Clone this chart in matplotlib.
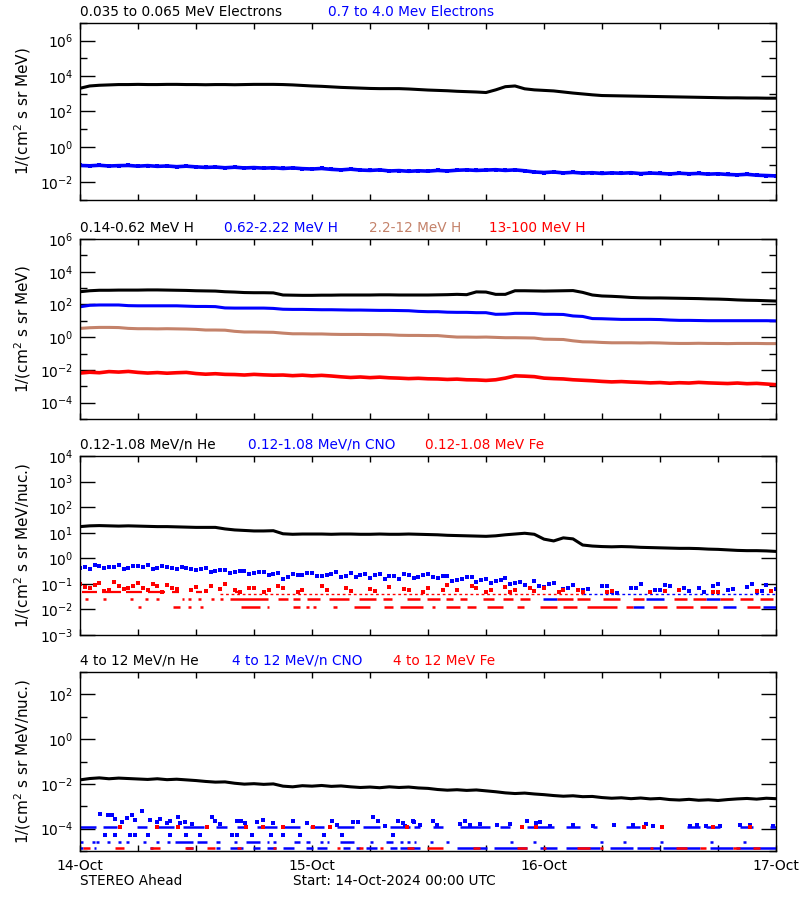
import numpy as np
import matplotlib.pyplot as plt

nan = np.nan

# sample times in hours from 14-Oct-2024 00:00 UTC
hours = np.arange(73)
half_hours = np.arange(72) + 0.5

# ---------------- panel 1 : electrons (log10 intensity, hourly)
elec_lo_log = [3.31, 3.44, 3.48, 3.50, 3.52, 3.52, 3.53, 3.52, 3.52, 3.53, 3.53, 3.52,
               3.52, 3.51, 3.52, 3.52, 3.51, 3.52, 3.53, 3.53, 3.53, 3.52, 3.50, 3.47,
               3.44, 3.42, 3.39, 3.36, 3.34, 3.32, 3.30, 3.29, 3.29, 3.29, 3.27, 3.24,
               3.21, 3.19, 3.17, 3.14, 3.12, 3.10, 3.07, 3.22, 3.40, 3.44, 3.28, 3.22,
               3.19, 3.16, 3.10, 3.04, 2.99, 2.94, 2.90, 2.89, 2.88, 2.87, 2.86, 2.85,
               2.84, 2.83, 2.82, 2.81, 2.80, 2.79, 2.78, 2.77, 2.77, 2.76, 2.76, 2.75,
               2.75]
elec_hi_log = [-1.05, -1.07, -1.04, -1.08, -1.06, -1.05, -1.09, -1.06, -1.10, -1.08, -1.12, -1.09,
               -1.13, -1.16, -1.14, -1.18, -1.15, -1.19, -1.17, -1.20, -1.18, -1.22, -1.19, -1.23,
               -1.25, -1.22, -1.27, -1.30, -1.26, -1.31, -1.33, -1.30, -1.36, -1.34, -1.38, -1.35,
               -1.37, -1.33, -1.36, -1.32, -1.30, -1.33, -1.31, -1.29, -1.33, -1.30, -1.35, -1.42,
               -1.45, -1.42, -1.47, -1.44, -1.48, -1.46, -1.50, -1.47, -1.49, -1.46, -1.51, -1.48,
               -1.50, -1.53, -1.49, -1.52, -1.50, -1.54, -1.52, -1.56, -1.58, -1.55, -1.60, -1.62,
               -1.64]

# ---------------- panel 2 : protons
h1_log = [2.78, 2.84, 2.87, 2.87, 2.88, 2.88, 2.88, 2.89, 2.89, 2.88, 2.87, 2.86,
          2.84, 2.83, 2.82, 2.78, 2.76, 2.73, 2.72, 2.72, 2.71, 2.58, 2.57, 2.56,
          2.56, 2.57, 2.57, 2.58, 2.58, 2.58, 2.58, 2.59, 2.59, 2.58, 2.58, 2.58,
          2.58, 2.59, 2.60, 2.62, 2.60, 2.77, 2.76, 2.62, 2.62, 2.84, 2.84, 2.83,
          2.82, 2.83, 2.84, 2.85, 2.74, 2.58, 2.52, 2.50, 2.47, 2.43, 2.41, 2.40,
          2.40, 2.39, 2.38, 2.37, 2.36, 2.34, 2.33, 2.31, 2.28, 2.26, 2.25, 2.23,
          2.21]
h2_log = [1.86, 1.95, 1.97, 1.97, 1.97, 1.93, 1.92, 1.92, 1.92, 1.92, 1.92, 1.90,
          1.88, 1.88, 1.87, 1.79, 1.78, 1.78, 1.78, 1.78, 1.76, 1.71, 1.70, 1.70,
          1.69, 1.68, 1.68, 1.67, 1.66, 1.66, 1.65, 1.64, 1.64, 1.63, 1.62, 1.58,
          1.56, 1.56, 1.53, 1.52, 1.52, 1.50, 1.50, 1.40, 1.41, 1.46, 1.46, 1.45,
          1.40, 1.40, 1.39, 1.30, 1.27, 1.14, 1.13, 1.11, 1.09, 1.09, 1.09, 1.09,
          1.08, 1.05, 1.03, 1.03, 1.02, 1.01, 1.01, 1.01, 1.01, 1.01, 1.01, 1.01,
          1.00]
h3_log = [0.54, 0.58, 0.60, 0.60, 0.59, 0.54, 0.52, 0.52, 0.51, 0.52, 0.51, 0.50,
          0.48, 0.44, 0.44, 0.43, 0.36, 0.32, 0.32, 0.31, 0.30, 0.25, 0.21, 0.21,
          0.20, 0.20, 0.18, 0.17, 0.17, 0.17, 0.16, 0.16, 0.15, 0.12, 0.11, 0.11,
          0.10, 0.10, 0.05, 0.01, 0.01, 0.00, 0.01, -0.01, -0.03, -0.03, -0.04, -0.05,
          -0.12, -0.13, -0.14, -0.22, -0.28, -0.29, -0.32, -0.34, -0.34, -0.34, -0.35, -0.34,
          -0.35, -0.37, -0.38, -0.38, -0.37, -0.38, -0.38, -0.39, -0.38, -0.38, -0.38, -0.39,
          -0.39]
h4_log = [-2.19, -2.14, -2.17, -2.10, -2.13, -2.09, -2.15, -2.19, -2.16, -2.20, -2.17, -2.15,
          -2.22, -2.26, -2.23, -2.27, -2.28, -2.31, -2.27, -2.30, -2.32, -2.31, -2.35, -2.32,
          -2.36, -2.33, -2.37, -2.42, -2.46, -2.43, -2.47, -2.44, -2.48, -2.50, -2.53, -2.51,
          -2.54, -2.55, -2.58, -2.56, -2.60, -2.61, -2.64, -2.60, -2.50, -2.36, -2.38, -2.41,
          -2.50, -2.53, -2.55, -2.60, -2.63, -2.66, -2.70, -2.73, -2.71, -2.74, -2.76, -2.79,
          -2.77, -2.81, -2.78, -2.80, -2.76, -2.79, -2.81, -2.83, -2.80, -2.84, -2.82, -2.86,
          -2.90]

# ---------------- panel 3 : 0.12-1.08 MeV/n ions
he3_log = [1.24, 1.27, 1.28, 1.27, 1.26, 1.27, 1.26, 1.25, 1.24, 1.24, 1.23, 1.22,
           1.21, 1.21, 1.21, 1.15, 1.11, 1.09, 1.07, 1.07, 1.08, 0.96, 0.94, 0.95,
           0.95, 0.95, 0.94, 0.95, 0.95, 0.94, 0.94, 0.95, 0.94, 0.94, 0.95, 0.94,
           0.93, 0.92, 0.90, 0.89, 0.88, 0.87, 0.86, 0.88, 0.92, 0.95, 0.98, 0.94,
           0.75, 0.68, 0.80, 0.76, 0.52, 0.48, 0.46, 0.45, 0.46, 0.45, 0.43, 0.42,
           0.41, 0.40, 0.39, 0.39, 0.38, 0.36, 0.35, 0.33, 0.31, 0.30, 0.30, 0.29,
           0.27]
cno3_log = [-0.36, -0.40, -0.30, -0.34, -0.27, -0.36, -0.31, -0.25, -0.38, -0.33, -0.42, -0.36,
            -0.45, -0.39, -0.50, -0.44, -0.55, -0.48, -0.58, -0.52, -0.63, -0.82, -0.60, -0.66,
            -0.57, -0.69, -0.62, -0.72, -0.58, -0.66, -0.75, -0.63, -0.70, -0.80, -0.65, -0.73,
            -0.62, -0.78, -0.70, -0.85, -0.74, -0.92, -0.80, -0.88, -0.76, -0.95, -1.05, -0.90,
            -1.12, -0.98, -1.20, -1.05, -1.25, nan, -1.10, -1.30, nan, -1.18, -1.02, nan,
            -1.22, -1.08, nan, -1.28, -1.15, nan, -1.00, -1.25, nan, -1.12, -1.30, -1.05,
            -1.20]
cno3_half_log = [-0.33, -0.28, -0.37, -0.32, -0.40, -0.29, -0.35, -0.41, -0.30, -0.37, -0.33, -0.43,
                 -0.40, -0.52, -0.46, -0.58, -0.50, -0.61, -0.54, -0.66, -0.57, -0.72, -0.65, -0.59,
                 -0.71, -0.64, -0.55, -0.68, -0.74, -0.61, -0.67, -0.82, -0.69, -0.60, -0.77, -0.66,
                 -0.74, -0.68, -0.90, -0.79, -0.72, -0.86, -0.95, -0.83, -1.00, -0.92, -1.15, -1.08,
                 -1.02, -1.30, -1.15, nan, -1.20, nan, -1.08, -1.35, nan, -1.15, nan, -1.25,
                 -1.05, nan, -1.18, nan, -1.30, -1.10, nan, -1.20, nan, -1.02, -1.28, nan]
fe3_log = [-1.00, -1.15, -0.95, -1.22, -1.08, -1.18, -0.98, -1.25, -1.10, -1.05,
           -1.20, nan, -1.12, -1.28, nan, -1.02, -1.22, nan, -1.15, -1.30, nan,
           -1.18, nan, -1.25, nan, -1.10, nan, nan, -1.28, nan, -1.20, nan, -1.12, nan, -1.25, nan,
           -1.15, nan, -1.05, -1.25, nan, -1.18, -1.30, nan, -1.12, -1.22, nan, -1.28, -1.15, nan,
           -1.25, nan, -1.30,
           nan, nan, -1.28, nan, nan, nan, -1.30, nan, nan, -1.25, nan, nan, nan, -1.30, nan, nan,
           nan, -1.28, nan, nan]
fe3_half_log = [-1.12, -1.05, -1.28, -0.92, -1.20, -1.10, -1.15, -1.02, -1.30, -1.18,
                nan, -1.25, nan, -1.08, -1.20, nan, -1.30, -1.15, nan, -1.25, -1.10,
                nan, -1.30, nan, nan, -1.22, nan, -1.15, nan, nan, -1.28, nan, nan, -1.20, nan, -1.30,
                nan, -1.22, nan, nan, -1.10, nan, -1.25, nan, -1.30, nan, -1.18, nan, nan, -1.30,
                nan, -1.22, nan,
                nan, -1.30, nan, nan, nan, nan, nan, -1.28, nan, nan, nan, nan, -1.30, nan, nan,
                nan, nan, nan, -1.28]

# quantised count levels in panel 3 and the hour ranges where they are filled
fe3_levels = [0.05, 0.04, 0.025, 0.012]
fe3_runs_050 = [(0.2, 1.8), (2.3, 4.2), (4.8, 6.4), (7.0, 8.8), (9.5, 10.2), (12.0, 12.6), (16.0, 16.5)]
fe3_runs_040 = [(14.5, 52.0)]
cno3_runs_040 = [(52.0, 72.0)]
fe3_runs_025 = [(0.5, 0.8), (2.4, 2.7), (5.2, 5.5), (6.7, 7.0), (7.9, 8.2), (10.5, 10.8), (11.2, 11.5),
                (12.2, 12.5), (13.6, 13.9), (14.5, 14.8), (15.5, 19.4), (20.5, 21.5), (22.0, 22.8),
                (23.5, 24.8), (25.8, 27.8), (28.9, 30.6), (31.3, 32.3), (33.8, 35.2), (35.9, 37.2),
                (37.9, 38.6), (39.3, 40.0), (41.7, 42.8), (43.8, 44.8), (45.5, 46.5), (49.3, 51.0),
                (51.4, 52.8), (54.1, 55.9), (57.2, 58.3), (61.4, 62.8), (63.4, 64.8), (66.2, 67.6),
                (68.3, 69.6), (70.3, 71.7)]
cno3_runs_025 = [(47.9, 49.3), (58.6, 60.4), (64.8, 66.2)]
fe3_runs_012 = [(6.0, 6.3), (9.6, 10.3), (11.2, 11.5), (12.4, 12.7), (16.7, 18.6), (19.3, 19.6),
                (22.0, 22.8), (23.4, 23.7), (24.1, 24.4), (26.2, 26.6), (28.3, 30.0), (31.4, 32.4),
                (33.1, 35.5), (36.4, 36.7), (37.9, 39.3), (40.0, 41.0), (42.1, 43.8), (45.2, 45.9),
                (47.6, 49.3), (50.0, 51.4), (52.4, 55.5), (56.5, 57.2), (59.3, 60.7), (61.7, 63.4),
                (64.1, 65.9), (69.0, 70.3)]
cno3_runs_012 = [(57.2, 58.3), (66.5, 67.9), (70.7, 72.0)]

# ---------------- panel 4 : 4-12 MeV/n ions
he4_log = [-1.82, -1.76, -1.73, -1.77, -1.74, -1.76, -1.78, -1.80, -1.77, -1.81, -1.79, -1.82,
           -1.85, -1.89, -1.92, -1.91, -1.97, -2.01, -1.99, -2.02, -2.00, -2.10, -2.13, -2.08,
           -2.10, -2.07, -2.11, -2.09, -2.13, -2.16, -2.14, -2.17, -2.13, -2.16, -2.14, -2.18,
           -2.20, -2.25, -2.28, -2.26, -2.29, -2.27, -2.31, -2.35, -2.40, -2.43, -2.41, -2.45,
           -2.48, -2.52, -2.55, -2.53, -2.57, -2.56, -2.61, -2.64, -2.62, -2.66, -2.63, -2.67,
           -2.65, -2.70, -2.72, -2.69, -2.73, -2.71, -2.74, -2.70, -2.67, -2.65, -2.68, -2.64,
           -2.66]
cno4_pt_hours = [2.07, 2.93, 3.28, 3.62, 4.31, 4.83, 5.34, 5.69, 6.38, 7.24, 7.93, 8.28, 8.97,
                 9.31, 10.17, 10.34, 10.86, 11.55, 13.62, 13.97, 14.48, 16.2, 16.7, 17.07, 18.28,
                 18.97, 20.0, 22.07, 23.45, 26.03, 26.55, 28.27, 28.79, 30.34, 30.86, 31.55, 32.93,
                 33.62, 34.48, 33.4, 34.5, 35.2, 36.5, 36.9, 39.3, 39.8, 40.3, 41.4, 43.1, 44.5,
                 46.2, 47.2, 47.6, 48.6, 51.0, 53.1, 55.2, 57.2, 58.6, 59.3, 63.1, 63.8, 64.8,
                 66.2, 68.3, 69.3, 71.7]
cno4_pt_log = [-3.34, -3.41, -3.41, -3.58, -3.68, -3.53, -3.41, -3.61, -3.19, -3.61, -3.68, -3.58,
               -3.76, -3.64, -3.49, -3.76, -3.68, -3.79, -3.46, -3.64, -3.79, -3.64, -3.64, -3.76,
               -3.68, -3.61, -3.76, -3.64, -3.76, -3.64, -3.83, -3.68, -3.68, -3.49, -3.64, -3.875,
               -3.64, -3.875, -3.64, -3.76, -3.68, -3.83, -3.64, -3.83, -3.79, -3.64, -3.83, -3.79,
               -3.83, -3.79, -3.64, -3.73, -3.68, -3.875, -3.83, -3.875, -3.83, -3.83, -3.79, -3.875,
               -3.875, -3.83, -3.875, -3.90, -3.83, -3.83, -3.90]
p4_levels = [1.2e-4, 5.2e-5, 2.6e-5, 1.35e-5]
cno4_runs_a = [(0.0, 1.7), (2.4, 3.8), (5.9, 6.9), (7.9, 9.7), (10.7, 12.8), (14.1, 15.2), (16.2, 17.2),
               (18.3, 20.4), (21.0, 22.8), (23.8, 25.2), (26.6, 28.3), (29.3, 31.0), (32.1, 34.1),
               (34.5, 35.2), (36.5, 37.6), (39.3, 42.4), (43.4, 44.5), (46.2, 49.0), (50.3, 51.7),
               (53.1, 53.5), (56.5, 57.9), (62.8, 64.1), (64.8, 66.2), (68.3, 69.6), (71.4, 72.0)]
fe4_spots_a = [4.14, 7.93, 10.17, 13.1, 17.2, 18.97, 21.0, 24.1, 25.9, 33.8, 45.7, 47.2, 58.3, 60.2,
               65.5, 69.3]
cno4_spots_b = [2.6, 3.6, 5.2, 5.7, 7.0, 9.3, 11.0, 12.4, 15.7, 16.2, 17.8, 19.8, 21.0, 22.8, 25.2,
                27.1, 32.4]
cno4_runs_c = [(0.0, 0.3), (1.2, 1.5), (1.7, 2.0), (2.8, 3.1), (3.9, 4.2), (4.8, 5.1), (6.5, 6.8),
               (7.9, 8.2), (9.0, 9.3), (9.8, 11.7), (12.1, 13.1), (14.1, 14.5), (15.9, 16.2),
               (17.2, 18.6), (19.3, 19.6), (20.0, 20.3), (22.1, 22.8), (23.4, 23.8), (24.8, 25.1),
               (25.5, 25.8), (26.9, 28.3), (30.0, 30.3), (31.7, 32.4), (33.1, 33.4), (33.8, 34.1),
               (34.5, 34.8), (36.2, 36.5), (37.9, 38.2), (44.5, 44.8), (46.9, 47.2), (53.8, 54.1),
               (56.2, 56.5), (60.0, 60.3), (65.2, 65.5), (68.6, 68.9)]
cno4_runs_d = [(0.0, 0.3), (1.4, 1.7), (7.2, 7.6), (11.0, 11.7), (14.1, 14.5), (15.5, 16.9), (17.9, 18.6),
               (19.3, 20.3), (21.0, 22.1), (23.4, 24.1), (24.5, 25.5), (27.2, 27.9), (28.6, 29.0),
               (29.6, 30.7), (32.1, 32.8), (33.1, 35.2), (39.0, 42.1), (42.8, 46.2), (47.6, 49.3),
               (50.3, 53.8), (54.8, 57.2), (57.6, 60.0), (60.3, 64.1), (65.2, 67.6), (67.9, 72.0)]
fe4_runs_d = [(0.3, 1.0), (3.6, 4.5), (7.2, 8.3), (10.9, 11.7), (13.1, 14.0), (16.2, 16.7), (20.0, 20.3),
              (26.6, 26.9), (28.9, 29.3), (31.0, 31.3), (33.8, 34.5), (35.9, 37.6), (40.7, 41.4),
              (45.2, 46.2), (47.9, 48.2), (51.4, 52.8), (53.8, 54.1), (59.0, 59.3), (61.7, 62.8),
              (64.1, 64.8), (67.6, 68.3), (69.6, 70.3)]

day_labels = ['14-Oct', '15-Oct', '16-Oct', '17-Oct']

BLUE = '#0000ff'
RED = '#ff0000'
TAN = '#c4826a'
MS = 2.6  # dot size, points

plt.rcParams['font.family'] = 'DejaVu Sans'
plt.rcParams['font.size'] = 9.8

fig = plt.figure(figsize=(8, 9), dpi=100)


def setup_axis(ax, elo, ehi, step, ylabel, bottom_labels=False):
    ax.set_xlim(0, 72)
    ax.set_yscale('log')
    ax.set_ylim(10.0 ** elo, 10.0 ** ehi)
    majors = [e for e in range(elo, ehi + 1) if e % step == 0]
    minors = [e for e in range(elo, ehi + 1) if e % step != 0]
    ax.set_yticks([10.0 ** e for e in majors], labels=['$10^{%d}$' % e for e in majors])
    ax.set_yticks([10.0 ** e for e in minors], minor=True)
    ax.yaxis.set_minor_formatter(plt.NullFormatter())
    xt = np.arange(0, 73, 6)
    if bottom_labels:
        labs = [day_labels[int(t) // 24] if t % 24 == 0 else '' for t in xt]
    else:
        labs = [''] * len(xt)
    ax.set_xticks(xt, labels=labs)
    ax.tick_params(axis='y', which='major', direction='in', left=True, right=True,
                   length=10.5, width=1, labelsize=10, pad=5)
    ax.tick_params(axis='y', which='minor', direction='in', left=True, right=True,
                   length=5, width=1)
    ax.tick_params(axis='x', which='major', direction='in', top=True, bottom=True,
                   length=4, width=1, labelsize=10, pad=6)
    for s in ax.spines.values():
        s.set_linewidth(1.0)
    ax.set_ylabel(ylabel, fontsize=11)
    ax.yaxis.set_label_coords(-0.068, 0.5)


def titles(ax, items):
    for frac, txt, col in items:
        ax.annotate(txt, xy=(frac, 1.0), xycoords='axes fraction', xytext=(0, 3),
                    textcoords='offset points', ha='left', va='bottom', color=col, fontsize=9.8)


def runs(ax, level, spans, color, lw=1.8, ls='solid'):
    ax.hlines([level] * len(spans), [a for a, b in spans], [b for a, b in spans],
              colors=color, lw=lw, linestyles=ls)


def dots(ax, x, y, color):
    ax.plot(x, y, ls='none', color=color, marker='s', ms=MS, mew=0)


def lg(v):
    return 10.0 ** np.array(v, dtype=float)


# ---------- panel 1
ax1 = fig.add_axes([0.1, 0.7778, 0.87, 0.1967])
setup_axis(ax1, -3, 7, 2, '1/(cm$^2$ s sr MeV)')
ax1.plot(hours, lg(elec_lo_log), color='black', lw=2.2)
ax1.plot(hours, lg(elec_hi_log), color=BLUE, lw=2.6)
dots(ax1, hours, lg(elec_hi_log), BLUE)
titles(ax1, [(0.0, '0.035 to 0.065 MeV Electrons', 'black'),
             (0.356, '0.7 to 4.0 Mev Electrons', BLUE)])

# ---------- panel 2
ax2 = fig.add_axes([0.1, 0.5344, 0.87, 0.2])
setup_axis(ax2, -5, 6, 2, '1/(cm$^2$ s sr MeV)')
ax2.plot(hours, lg(h1_log), color='black', lw=2.2)
ax2.plot(hours, lg(h2_log), color=BLUE, lw=2.2)
ax2.plot(hours, lg(h3_log), color=TAN, lw=2.2)
ax2.plot(hours, lg(h4_log), color=RED, lw=2.6)
titles(ax2, [(0.0, '0.14-0.62 MeV H', 'black'), (0.207, '0.62-2.22 MeV H', BLUE),
             (0.415, '2.2-12 MeV H', TAN), (0.588, '13-100 MeV H', RED)])

# ---------- panel 3
ax3 = fig.add_axes([0.1, 0.2944, 0.87, 0.1989])
setup_axis(ax3, -3, 4, 1, '1/(cm$^2$ s sr MeV/nuc.)')
ax3.plot(hours, lg(he3_log), color='black', lw=2.2)
dots(ax3, hours, lg(cno3_log), BLUE)
dots(ax3, half_hours, lg(cno3_half_log), BLUE)
runs(ax3, fe3_levels[1], cno3_runs_040, BLUE, lw=1.0, ls=(0, (2, 2)))
runs(ax3, fe3_levels[2], cno3_runs_025, BLUE)
runs(ax3, fe3_levels[3], cno3_runs_012, BLUE)
dots(ax3, hours, lg(fe3_log), RED)
dots(ax3, half_hours, lg(fe3_half_log), RED)
runs(ax3, fe3_levels[0], fe3_runs_050, RED, lw=1.6)
runs(ax3, fe3_levels[1], fe3_runs_040, RED, lw=1.0, ls=(0, (2, 2)))
runs(ax3, fe3_levels[2], fe3_runs_025, RED)
runs(ax3, fe3_levels[3], fe3_runs_012, RED)
titles(ax3, [(0.0, '0.12-1.08 MeV/n He', 'black'), (0.241, '0.12-1.08 MeV/n CNO', BLUE),
             (0.496, '0.12-1.08 MeV Fe', RED)])

# ---------- panel 4
ax4 = fig.add_axes([0.1, 0.0544, 0.87, 0.1989])
setup_axis(ax4, -5, 3, 2, '1/(cm$^2$ s sr MeV/nuc.)', bottom_labels=True)
ax4.plot(hours, lg(he4_log), color='black', lw=2.2)
dots(ax4, cno4_pt_hours, lg(cno4_pt_log), BLUE)
runs(ax4, p4_levels[0], cno4_runs_a, BLUE)
dots(ax4, cno4_spots_b, [p4_levels[1]] * len(cno4_spots_b), BLUE)
runs(ax4, p4_levels[2], cno4_runs_c, BLUE)
runs(ax4, p4_levels[3], cno4_runs_d, BLUE)
dots(ax4, fe4_spots_a, [p4_levels[0]] * len(fe4_spots_a), RED)
runs(ax4, p4_levels[3], fe4_runs_d, RED)
titles(ax4, [(0.0, '4 to 12 MeV/n He', 'black'), (0.218, '4 to 12 MeV/n CNO', BLUE),
             (0.450, '4 to 12 MeV Fe', RED)])

fig.text(0.1, 1 - 881 / 900, 'STEREO Ahead', ha='left', va='center', fontsize=9.8)
fig.text(293 / 800, 1 - 881 / 900, 'Start: 14-Oct-2024 00:00 UTC', ha='left', va='center', fontsize=9.8)

fig.savefig('out.png', dpi=100)
